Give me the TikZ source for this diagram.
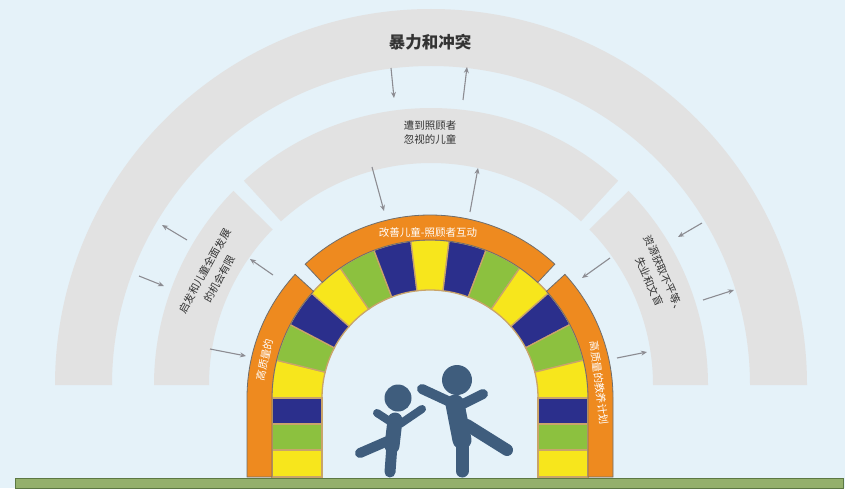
\documentclass[tikz,border=0pt]{standalone}
\usepackage{fontspec}
\newfontfamily\cjk{Noto Sans CJK SC}
\usetikzlibrary{arrows.meta}

\definecolor{bg}{HTML}{E5F2F9}
\definecolor{ringgray}{HTML}{E2E2E2}
\definecolor{archorange}{HTML}{EE8A1F}
\definecolor{archedge}{HTML}{6E6E6E}
\definecolor{bY}{HTML}{F7E61C}
\definecolor{bG}{HTML}{8CC13F}
\definecolor{bN}{HTML}{2B2F8C}
\definecolor{brickline}{HTML}{C9A46A}
\definecolor{arrowgray}{HTML}{8C8C92}
\definecolor{figblue}{HTML}{3F5D7D}
\definecolor{ground}{HTML}{94B06C}
\definecolor{groundedge}{HTML}{5C7843}
\definecolor{txt}{HTML}{333333}

\tikzset{
  ring/.style={fill=ringgray},
  orangepiece/.style={fill=archorange, draw=archedge, line width=0.8},
  brick/.style={draw=brickline, line width=1.3},
  arr/.style={draw=arrowgray, line width=1.1, -{Stealth[length=6pt,width=5pt]}},
  limb/.style={draw=figblue, line cap=round, line join=round},
  graytext/.style={text=txt, align=center, font=\cjk\fontsize{10.5}{14}\selectfont},
  sidetext/.style={text=txt, align=center, font=\cjk\fontsize{10.5}{16.5}\selectfont},
  archtext/.style={text=white, font=\cjk\fontsize{10.5}{13}\selectfont},
}

% ring segment: start angle, end angle, inner radius, outer radius
\newcommand{\ringseg}[5][]{%
  \fill[#1] (#2:#5) arc[start angle=#2, end angle=#3, radius=#5]
    -- (#3:#4) arc[start angle=#3, end angle=#2, radius=#4] -- cycle;}

\begin{document}
\begin{tikzpicture}[x=1pt, y=1pt, font=\cjk]
\fill[bg] (0,0) rectangle (845,488);
\useasboundingbox (0,0) rectangle (845,488);

% gray rings
\begin{scope}[shift={(431,103)}]
  \ringseg[ring]{0}{180}{319}{376}
  \ringseg[ring]{0}{44.5}{222}{277}
  \ringseg[ring]{47.5}{132.5}{222}{277}
  \ringseg[ring]{135.5}{180}{222}{277}
\end{scope}

% title and ring labels
\node[text=txt, font=\cjk\bfseries\fontsize{16.5}{18}\selectfont] (title) at (430,446) {暴力和冲突};
\node[graytext] (neglect) at (430,355) {遭到照顾者\\忽视的儿童};
\node[sidetext, rotate=61] (chances) at (212,213) {启发和儿童全面发展\\的机会有限};
\node[sidetext, rotate=-66] (inequal) at (657,210) {资源获取不平等、\\失业和文盲};

% arrows between the rings
\coordinate (a1s) at (391,420); \coordinate (a1e) at (394,390);
\coordinate (a2s) at (463,388); \coordinate (a2e) at (467,421);
\coordinate (a3s) at (372,321); \coordinate (a3e) at (384,277);
\coordinate (a4s) at (470,276); \coordinate (a4e) at (478,320);
\coordinate (a5s) at (187,248); \coordinate (a5e) at (162,263);
\coordinate (a6s) at (139,212); \coordinate (a6e) at (164,202);
\coordinate (a7s) at (273,213); \coordinate (a7e) at (250,229);
\coordinate (a8s) at (210,139); \coordinate (a8e) at (246,132);
\coordinate (a9s) at (702,265); \coordinate (a9e) at (678,251);
\coordinate (a10s) at (610,230); \coordinate (a10e) at (582,210);
\coordinate (a11s) at (703,188); \coordinate (a11e) at (734,198);
\coordinate (a12s) at (617,130); \coordinate (a12e) at (647,136);
\foreach \k in {1,...,12} \draw[arr] (a\k s) -- (a\k e);

% brick arch
\begin{scope}[shift={(430,90)}]
  \foreach \c [count=\i from 0] in {bY,bG,bN,bY,bG,bN,bY,bN,bG,bY,bN,bG,bY} {
    \pgfmathsetmacro\sa{180-\i*180/13}
    \pgfmathsetmacro\ea{180-(\i+1)*180/13}
    \filldraw[brick, fill=\c] (\sa:158) arc[start angle=\sa, end angle=\ea, radius=158]
      -- (\ea:108) arc[start angle=\ea, end angle=\sa, radius=108] -- cycle;
  }
  \foreach \s in {-1,1} {
    \filldraw[brick, fill=bN] (\s*108,0) rectangle (\s*158,-26);
    \filldraw[brick, fill=bG] (\s*108,-26) rectangle (\s*158,-52);
    \filldraw[brick, fill=bY] (\s*108,-52) rectangle (\s*158,-79);
  }
  % orange frame pieces
  \filldraw[orangepiece] (-183,-79) -- (180:183) arc[start angle=180, end angle=137.5, radius=183]
    -- (137.5:158) arc[start angle=137.5, end angle=180, radius=158] -- (-158,-79) -- cycle;
  \filldraw[orangepiece] (133:183) arc[start angle=133, end angle=47, radius=183]
    -- (47:158) arc[start angle=47, end angle=133, radius=158] -- cycle;
  \filldraw[orangepiece] (183,-79) -- (0:183) arc[start angle=0, end angle=42.5, radius=183]
    -- (42.5:158) arc[start angle=42.5, end angle=0, radius=158] -- (158,-79) -- cycle;
  \node[archtext, rotate=77] (leftlabel) at (167:170) {高质量的};
  \node[archtext] (toplabel) at (-2,166) {改善儿童-照顾者互动};
  \node[archtext, rotate=-83] (rightlabel) at (169,15) {高质量的教养计划};
\end{scope}

% children
\fill[figblue] (398,90) circle (13.5);
\draw[limb, line width=15] (395,68) -- (392,42);
\draw[limb, line width=11] (392,43) -- (390,16);
\draw[limb, line width=10] (390,48) -- (360,35);
\draw[limb, line width=8] (394,64) -- (377,75);
\draw[limb, line width=8] (400,64) -- (422,79);

\fill[figblue] (457,108) circle (15);
\draw[limb, line width=19] (455,84) -- (462,48);
\draw[limb, line width=13] (462,50) -- (462,17);
\draw[limb, line width=12] (467,63) -- (507,38);
\draw[limb, line width=10] (450,86) -- (422,99);
\draw[limb, line width=10] (463,84) -- (483,94);

% ground
\filldraw[fill=ground, draw=groundedge, line width=1] (15,0) rectangle (843,10);
\end{tikzpicture}
\end{document}
